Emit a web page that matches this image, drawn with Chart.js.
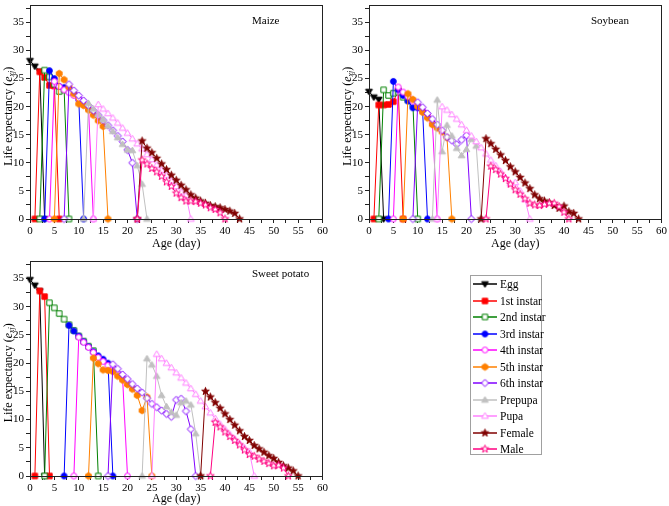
<!DOCTYPE html>
<html>
<head>
<meta charset="utf-8">
<script src="https://cdn.jsdelivr.net/npm/chart.js@4.4.1/dist/chart.umd.min.js"></script>
<style>
  body { margin: 0; background: #fff; width: 669px; height: 506px; position: relative; overflow: hidden;
         font-family: "Liberation Serif", "DejaVu Serif", serif; }
  canvas.panel { position: absolute; }
  #legend { position: absolute; left: 470px; top: 275px; width: 72px; height: 180px;
            border: 1px solid #a0a0a0; box-sizing: border-box; background: #fff; }
  .row { position: absolute; left: 1px; height: 16px; display: flex; align-items: center;
         font-size: 11.5px; white-space: nowrap; color: #000; }
  .row canvas { margin-right: 2px; }
</style>
</head>
<body>
<canvas id="maize" class="panel" width="330" height="255" style="left:0;top:-3px"></canvas>
<canvas id="soybean" class="panel" width="330" height="255" style="left:339px;top:-3px"></canvas>
<canvas id="sweet" class="panel" width="330" height="253" style="left:0;top:253px"></canvas>
<div id="legend"></div>
<script>
const stages = ['Egg', '1st instar', '2nd instar', '3rd instar', '4th instar', '5th instar',
                '6th instar', 'Prepupa', 'Pupa', 'Female', 'Male'];

// first age (day) of each series; following values are one day apart
const maizeStart = [0, 1, 2, 3, 4, 5, 7, 11, 13, 22, 22];
const maizeLife = [
  [28.2, 27.2, 26.3, 0],
  [0, 26.2, 25.2, 23.8, 23.7, 0],
  [0, 26.5, 25.3, 24.0, 22.7, 23.0, 0],
  [0, 26.4, 25.0, 23.6, 23.4, 22.8, 22.3, 21.3, 0],
  [0, 24.5, 23.6, 23.0, 22.5, 22.0, 21.4, 20.6, 19.7, 0],
  [0, 25.9, 24.8, 23.5, 22.3, 20.5, 20.2, 19.4, 18.5, 17.5, 16.5, 0],
  [0, 24.0, 22.9, 22.0, 21.1, 20.2, 19.3, 18.5, 17.6, 16.7, 15.8, 14.8, 13.8, 12.3, 10.0, 0],
  [0, 20.6, 19.6, 18.6, 17.7, 16.6, 15.6, 14.5, 13.3, 12.3, 12.2, 9.5, 6.2, 0],
  [0, 20.4, 19.6, 18.8, 18.0, 17.1, 16.2, 15.3, 14.3, 13.4, 12.5, 11.5, 10.6, 9.6, 8.7, 7.8, 6.8, 5.8, 4.8, 4.2, 0],
  [0, 13.9, 12.6, 11.8, 10.8, 9.8, 8.8, 7.8, 6.9, 6.0, 5.2, 4.3, 3.7, 3.2, 2.8, 2.4, 2.2, 2.0, 1.7, 1.4, 1.0, 0],
  [0, 10.5, 9.8, 9.0, 8.4, 7.6, 6.6, 5.8, 4.6, 3.8, 3.2, 3.2, 3.1, 2.8, 2.5, 2.0, 1.7, 1.1, 0]
];

const soyStart = [0, 1, 2, 4, 5, 7, 9, 13, 14, 23, 24];
const soyLife = [
  [22.7, 21.7, 21.3, 0],
  [0, 20.3, 20.3, 20.4, 20.9, 22.9, 0],
  [0, 23.0, 22.0, 22.4, 22.6, 21.7, 21.2, 20.5, 0],
  [0, 24.5, 23.0, 22.0, 21.0, 19.8, 19.8, 19.2, 0],
  [0, 23.5, 22.6, 21.8, 21.0, 20.2, 19.4, 18.6, 17.2, 0],
  [0, 22.3, 21.3, 20.0, 19.0, 18.0, 16.8, 16.2, 15.5, 14.5, 0],
  [0, 20.8, 19.9, 18.8, 17.8, 16.8, 15.8, 14.6, 14.0, 13.3, 14.1, 14.9, 0],
  [0, 21.2, 12.0, 16.7, 14.8, 12.6, 11.3, 12.4, 14.2, 13.0, 0],
  [0, 20.0, 19.4, 18.6, 17.8, 16.8, 15.8, 14.8, 13.8, 12.7, 11.6, 10.5, 9.5, 8.5, 7.4, 6.3, 6.5, 5.0, 3.5, 0],
  [0, 14.3, 13.4, 12.4, 11.4, 10.4, 9.3, 8.4, 7.4, 6.4, 5.4, 4.3, 3.6, 3.2, 2.9, 2.4, 1.9, 2.3, 1.3, 1.0, 0],
  [0, 9.4, 8.8, 8.0, 7.2, 6.2, 5.2, 4.4, 3.6, 2.8, 2.5, 2.4, 2.6, 2.8, 2.8, 2.2, 1.2, 0]
];

const sweetStart = [0, 1, 3, 7, 9, 12, 16, 23, 25, 35, 37];
const sweetLife = [
  [34.8, 33.8, 32.8, 0],
  [0, 32.8, 31.8, 0],
  [0, 30.7, 29.8, 28.8, 27.8, 26.8, 25.8, 24.8, 23.9, 23.0, 22.2, 0],
  [0, 26.7, 25.7, 24.8, 23.8, 22.9, 22.0, 21.3, 20.7, 20.0, 0],
  [0, 24.6, 23.7, 22.8, 21.9, 21.0, 20.3, 19.6, 18.8, 18.0, 17.2, 0],
  [0, 20.9, 19.9, 18.8, 18.7, 18.5, 17.7, 17.0, 16.2, 15.4, 14.3, 11.6, 14.0, 0],
  [0, 19.8, 19.0, 18.0, 17.2, 16.3, 15.5, 14.8, 13.8, 12.8, 12.2, 11.6, 11.0, 10.5, 13.5, 13.7, 11.5, 8.3, 0],
  [0, 20.8, 19.7, 17.7, 14.3, 12.3, 11.3, 10.8, 13.0, 13.3, 12.6, 7.5, 0],
  [0, 21.6, 20.8, 20.0, 19.2, 18.3, 17.4, 16.5, 15.5, 14.5, 13.3, 12.3, 11.2, 10.2, 9.2, 8.3, 7.4, 6.6, 5.8, 5.0, 4.3, 0],
  [0, 15.0, 14.0, 13.0, 12.0, 11.0, 10.0, 9.0, 8.0, 7.0, 6.3, 5.4, 4.8, 4.2, 3.6, 3.1, 2.4, 1.8, 1.4, 0.9, 0],
  [0, 9.5, 8.7, 7.8, 7.0, 6.3, 5.5, 4.6, 3.8, 3.5, 3.0, 2.6, 2.2, 1.8, 1.9, 1.4, 0]
];

// look of each stage
const colors = ['#000000', '#ff0000', '#008000', '#0000ff', '#ff00ff', '#ff8000',
                '#8000ff', '#c0c0c0', '#ff80ff', '#800000', '#ff0080'];
const shapes = ['triDown', 'square', 'square', 'circle', 'circle', 'hex',
                'diamond', 'tri', 'tri', 'star', 'star'];
const filled = [true, true, false, true, false, true, false, true, false, true, false];

const FONT = '"Liberation Serif", "DejaVu Serif", serif';

function polygon(g, pts) {
  g.moveTo(pts[0][0], pts[0][1]);
  for (let i = 1; i < pts.length; i++) g.lineTo(pts[i][0], pts[i][1]);
}

function makeMarker(shape, color, fill) {
  const c = document.createElement('canvas');
  c.width = 11; c.height = 11;
  const g = c.getContext('2d');
  g.translate(5.5, 5.5);
  g.beginPath();
  if (shape === 'circle') g.arc(0, 0, 2.9, 0, Math.PI * 2);
  else if (shape === 'square') g.rect(-2.7, -2.7, 5.4, 5.4);
  else if (shape === 'triDown') polygon(g, [[-3.4, -2.3], [3.4, -2.3], [0, 3.4]]);
  else if (shape === 'tri') polygon(g, [[-3.4, 2.3], [3.4, 2.3], [0, -3.4]]);
  else if (shape === 'diamond') polygon(g, [[0, -3.6], [3.6, 0], [0, 3.6], [-3.6, 0]]);
  else if (shape === 'hex') {
    const p = [];
    for (let k = 0; k < 6; k++) { const a = Math.PI / 6 + k * Math.PI / 3; p.push([3.3 * Math.cos(a), 3.3 * Math.sin(a)]); }
    polygon(g, p);
  } else if (shape === 'star') {
    const p = [];
    for (let k = 0; k < 10; k++) {
      const r = k % 2 ? 1.6 : 4.0, a = -Math.PI / 2 + k * Math.PI / 5;
      p.push([r * Math.cos(a), r * Math.sin(a)]);
    }
    polygon(g, p);
  }
  g.closePath();
  g.fillStyle = fill ? color : '#fff';
  g.fill();
  g.strokeStyle = color;
  g.lineWidth = 1;
  g.stroke();
  return c;
}

const markers = stages.map((s, i) => makeMarker(shapes[i], colors[i], filled[i]));

function drawYTitle(ctx, x, y) {
  const parts = [
    ['Life expectancy (', '12px ' + FONT, 0],
    ['e', 'italic 12px ' + FONT, 0],
    ['xj', 'italic 8px ' + FONT, 3],
    [')', '12px ' + FONT, 0]
  ];
  let total = 0;
  parts.forEach(p => { ctx.font = p[1]; total += ctx.measureText(p[0]).width; });
  ctx.save();
  ctx.translate(x, y);
  ctx.rotate(-Math.PI / 2);
  ctx.fillStyle = '#000';
  ctx.textBaseline = 'middle';
  let px = -total / 2;
  parts.forEach(p => { ctx.font = p[1]; ctx.fillText(p[0], px, p[2]); px += ctx.measureText(p[0]).width; });
  ctx.restore();
}

const panelPlugin = {
  id: 'panelDecor',
  afterDraw(chart, args, opts) {
    const { ctx, chartArea: a } = chart;
    const al = v => Math.round(v - 0.5) + 0.5;
    ctx.save();
    ctx.strokeStyle = '#222';
    ctx.lineWidth = 1;
    ctx.strokeRect(al(a.left), al(a.top), al(a.right) - al(a.left), al(a.bottom) - al(a.top));
    ctx.fillStyle = '#000';
    ctx.font = '11px ' + FONT;
    ctx.textBaseline = 'middle';
    ctx.textAlign = 'left';
    ctx.fillText(opts.name, a.left + 222, a.top + opts.nameDy);
    ctx.font = '12px ' + FONT;
    ctx.textAlign = 'center';
    ctx.fillText('Age (day)', (a.left + a.right) / 2, a.bottom + opts.titleDy);
    ctx.restore();
    drawYTitle(ctx, 9, (a.top + a.bottom) / 2 + 4);
  }
};

function makePanel(id, name, start, life, xh, padTop, padRight, nameDy, titleDy) {
  const datasets = life.map((vals, i) => ({
    label: stages[i],
    data: vals.map((v, j) => ({ x: start[i] + j, y: v })),
    borderColor: colors[i],
    backgroundColor: colors[i],
    borderWidth: 1,
    pointStyle: markers[i],
    pointRadius: 4,
    tension: 0,
    clip: false,
    order: -i
  }));
  const axis = (min, max) => ({
    type: 'linear', min: min, max: max,
    ticks: {
      stepSize: 2.5, autoSkip: false, maxRotation: 0, includeBounds: false,
      color: '#000', padding: 2, font: { family: FONT, size: 11 },
      callback: v => (v % 5 === 0 ? String(v) : '')
    },
    grid: { display: true, drawOnChartArea: false, drawTicks: true, tickLength: 4, color: '#222' },
    border: { display: true, color: '#222' }
  });
  const x = axis(0, 60);
  x.afterFit = s => { s.height = xh; };
  const y = axis(0, 38);
  y.afterFit = s => { s.width = 30; };
  new Chart(document.getElementById(id), {
    type: 'line',
    data: { datasets: datasets },
    options: {
      responsive: false,
      animation: false,
      devicePixelRatio: 1,
      layout: { padding: { left: 0, right: padRight, top: padTop, bottom: 0 } },
      scales: { x: x, y: y },
      plugins: {
        legend: { display: false },
        tooltip: { enabled: false },
        panelDecor: { name: name, nameDy: nameDy, titleDy: titleDy }
      }
    },
    plugins: [panelPlugin]
  });
}

makePanel('maize', 'Maize', maizeStart, maizeLife, 33, 1, 7, 16, 25);
makePanel('soybean', 'Soybean', soyStart, soyLife, 33, 1, 6, 16, 25);
makePanel('sweet', 'Sweet potato', sweetStart, sweetLife, 30, 3, 5, 13, 23);

// legend box
const legend = document.getElementById('legend');
stages.forEach((s, i) => {
  const row = document.createElement('div');
  row.className = 'row';
  row.style.top = (i * 16.5) + 'px';
  const c = document.createElement('canvas');
  c.width = 26; c.height = 12;
  const g = c.getContext('2d');
  g.strokeStyle = colors[i];
  g.lineWidth = 1.5;
  g.beginPath(); g.moveTo(1, 6); g.lineTo(25, 6); g.stroke();
  g.drawImage(markers[i], 13 - 5.5, 6 - 5.5);
  row.appendChild(c);
  row.appendChild(document.createTextNode(s));
  legend.appendChild(row);
});
</script>
</body>
</html>
